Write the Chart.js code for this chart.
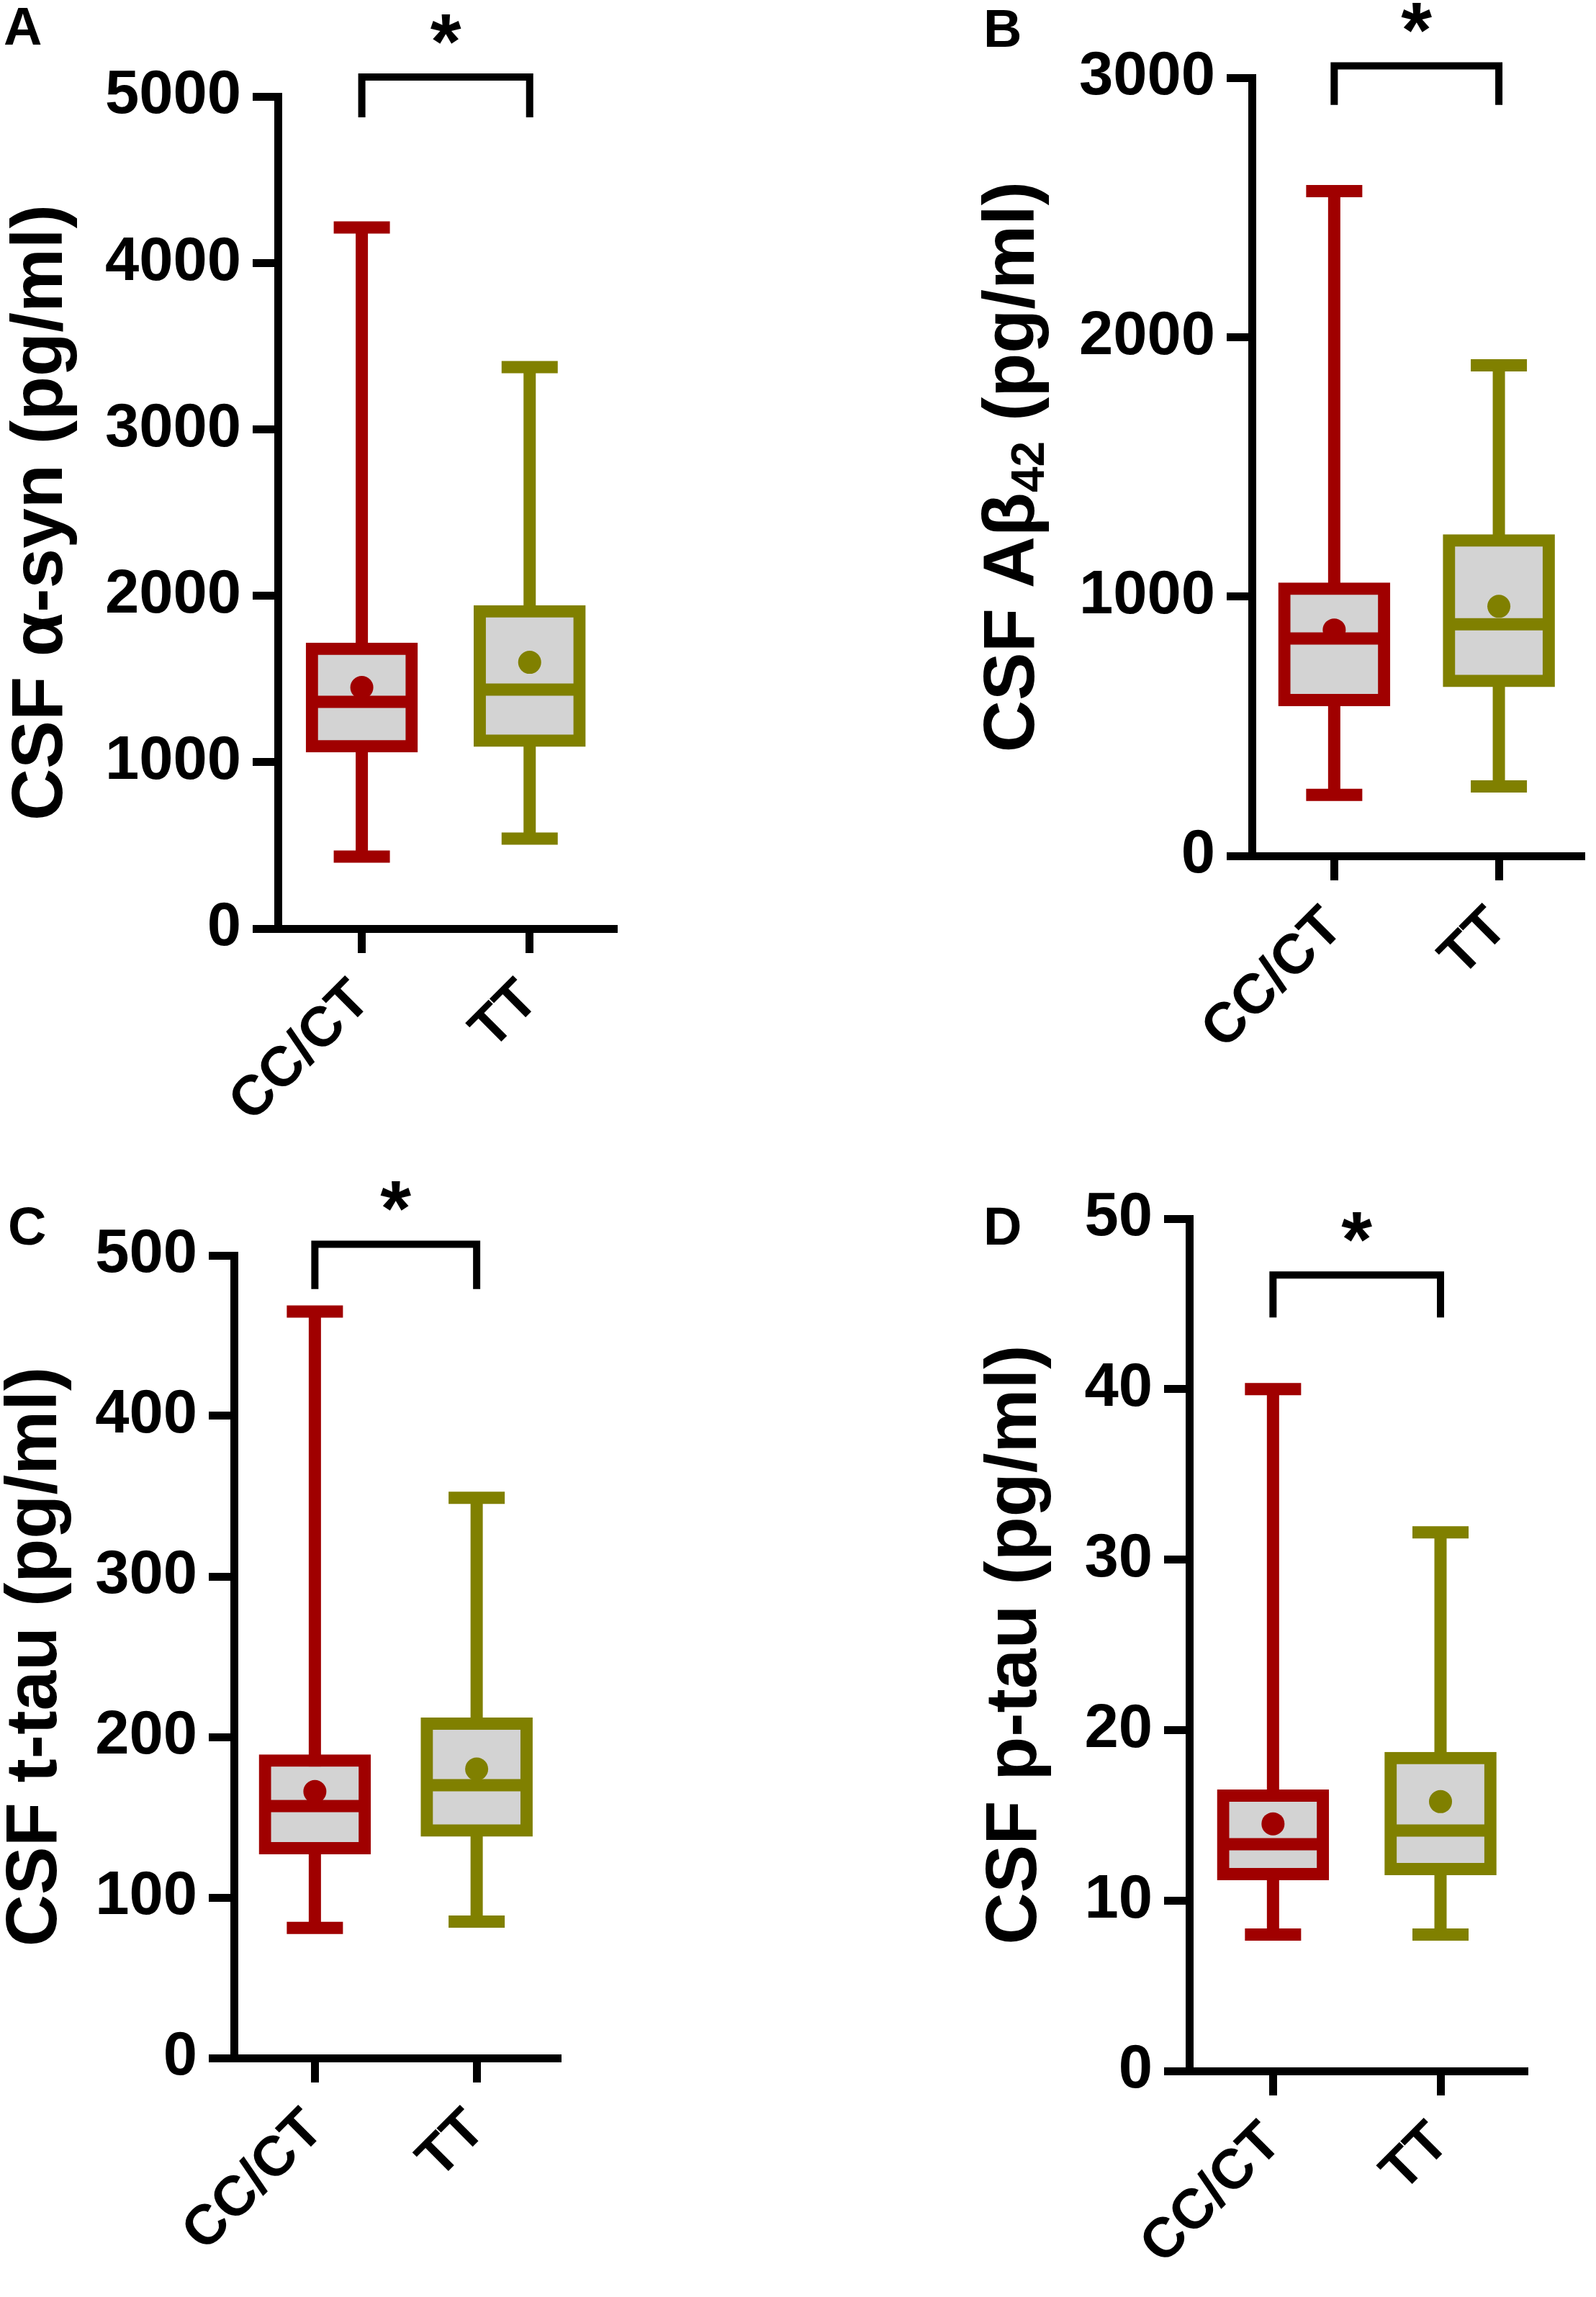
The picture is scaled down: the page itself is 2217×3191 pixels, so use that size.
<!DOCTYPE html>
<html>
<head>
<meta charset="utf-8">
<script src="https://cdn.jsdelivr.net/npm/chart.js@4.4.1/dist/chart.umd.min.js"></script>
<style>
html,body{margin:0;padding:0;background:#fff;}
#wrap{position:relative;width:2217px;height:3191px;}
canvas{position:absolute;}
</style>
</head>
<body>
<div id="wrap">
<canvas id="cA" width="1108" height="1580" style="left:0px;top:0px"></canvas>
<canvas id="cB" width="1109" height="1580" style="left:1108px;top:0px"></canvas>
<canvas id="cC" width="1108" height="1611" style="left:0px;top:1580px"></canvas>
<canvas id="cD" width="1109" height="1611" style="left:1108px;top:1580px"></canvas>
</div>
<script>
const FONT = "'Liberation Sans', Arial, sans-serif";

const categories = ["CC/CT", "TT"];
const groupColors = ["#A00000", "#808000"];

// A - CSF alpha-syn
const synMin = [433, 541];
const synQ1 = [1060, 1094];
const synMedian = [1362, 1436];
const synQ3 = [1717, 1942];
const synMax = [4213, 3374];
const synMean = [1449, 1600];

// B - CSF Abeta42
const abMin = [235, 268];
const abQ1 = [578, 652];
const abMedian = [838, 893];
const abQ3 = [1053, 1239];
const abMax = [2563, 1891];
const abMean = [871, 962];

// C - CSF t-tau
const ttauMin = [81, 85];
const ttauQ1 = [127, 138];
const ttauMedian = [157, 170];
const ttauQ3 = [189, 212];
const ttauMax = [465, 349];
const ttauMean = [166, 180];

// D - CSF p-tau
const ptauMin = [8.0, 8.0];
const ptauQ1 = [11.2, 11.5];
const ptauMedian = [13.3, 14.1];
const ptauQ3 = [16.5, 18.7];
const ptauMax = [40.0, 31.6];
const ptauMean = [14.5, 15.8];

// axes
const yMax = [5000, 3000, 500, 50];
const yStep = [1000, 1000, 100, 10];
// y titles: [text, subscript, text]
const yTitles = [
  ["CSF \u03b1-syn (pg/ml)", "", ""],
  ["CSF A\u03b2", "42", " (pg/ml)"],
  ["CSF t-tau (pg/ml)", "", ""],
  ["CSF p-tau (pg/ml)", "", ""]
];
const panelLetters = ["A", "B", "C", "D"];
// significance brackets (in axis units)
const bracketTop = [5117, 3046, 507, 46.7];
const bracketLeg = [4875, 2895, 479, 44.2];
const sigLabels = ["*", "*", "*", "*"];

const series = [
  {min: synMin, q1: synQ1, med: synMedian, q3: synQ3, max: synMax, mean: synMean},
  {min: abMin, q1: abQ1, med: abMedian, q3: abQ3, max: abMax, mean: abMean},
  {min: ttauMin, q1: ttauQ1, med: ttauMedian, q3: ttauQ3, max: ttauMax, mean: ttauMean},
  {min: ptauMin, q1: ptauQ1, med: ptauMedian, q3: ptauQ3, max: ptauMax, mean: ptauMean}
];

// layout of each panel inside its canvas
const layouts = [
  {canvas: "cA", left: 386, top: 134, right: 857, bottom: 1290, titleX: 58, letterX: 5, letterY: 62},
  {canvas: "cB", left: 631, top: 108, right: 1102, bottom: 1189, titleX: 300, letterX: 258, letterY: 65},
  {canvas: "cC", left: 325, top: 164, right: 779, bottom: 1279, titleX: 50, letterX: 11, letterY: 149},
  {canvas: "cD", left: 544, top: 113, right: 1014, bottom: 1297, titleX: 303, letterX: 258, letterY: 149}
];

const LINE = 17;
const BOX_W = 155;
const CAP_W = 78;

function makeChart(k) {
  const p = layouts[k];
  const d = series[k];
  const canvas = document.getElementById(p.canvas);
  const W = canvas.width, H = canvas.height;

  const boxPlugin = {
    id: "boxplot" + k,
    beforeDatasetsDraw(chart) {
      const ctx = chart.ctx, xs = chart.scales.x, ys = chart.scales.y;
      ctx.save();
      ctx.lineWidth = LINE;
      ctx.lineCap = "butt";
      categories.forEach((c, i) => {
        const cx = xs.getPixelForValue(i + 1);
        const yLo = ys.getPixelForValue(d.min[i]);
        const yHi = ys.getPixelForValue(d.max[i]);
        ctx.strokeStyle = groupColors[i];
        ctx.beginPath();
        ctx.moveTo(cx, yLo); ctx.lineTo(cx, yHi);
        ctx.moveTo(cx - CAP_W / 2, yLo); ctx.lineTo(cx + CAP_W / 2, yLo);
        ctx.moveTo(cx - CAP_W / 2, yHi); ctx.lineTo(cx + CAP_W / 2, yHi);
        ctx.stroke();
      });
      ctx.restore();
    },
    afterDatasetDraw(chart, args) {
      if (args.index !== 0) return;
      const ctx = chart.ctx, xs = chart.scales.x, ys = chart.scales.y;
      ctx.save();
      ctx.lineWidth = LINE;
      categories.forEach((c, i) => {
        const cx = xs.getPixelForValue(i + 1);
        const y = ys.getPixelForValue(d.med[i]);
        ctx.strokeStyle = groupColors[i];
        ctx.beginPath();
        ctx.moveTo(cx - BOX_W / 2 + 4, y); ctx.lineTo(cx + BOX_W / 2 - 4, y);
        ctx.stroke();
      });
      ctx.restore();
    },
    afterDraw(chart) {
      const ctx = chart.ctx, xs = chart.scales.x, ys = chart.scales.y;
      const area = chart.chartArea;
      ctx.save();
      // bracket
      const x1 = xs.getPixelForValue(1), x2 = xs.getPixelForValue(2);
      const yt = ys.getPixelForValue(bracketTop[k]);
      const yl = ys.getPixelForValue(bracketLeg[k]);
      ctx.strokeStyle = "#000";
      ctx.lineWidth = 10;
      ctx.lineJoin = "miter";
      ctx.beginPath();
      ctx.moveTo(x1, yl); ctx.lineTo(x1, yt); ctx.lineTo(x2, yt); ctx.lineTo(x2, yl);
      ctx.stroke();
      ctx.fillStyle = "#000";
      ctx.font = "bold 110px " + FONT;
      ctx.textAlign = "center";
      ctx.textBaseline = "alphabetic";
      ctx.fillText(sigLabels[k], (x1 + x2) / 2, yt - 12);

      // y title
      const t = yTitles[k];
      const mainFont = "bold 100px " + FONT;
      const subFont = "bold 64px " + FONT;
      ctx.font = mainFont;
      const w0 = ctx.measureText(t[0]).width;
      const w2 = ctx.measureText(t[2]).width;
      ctx.font = subFont;
      const w1 = ctx.measureText(t[1]).width;
      const total = w0 + w1 + w2;
      ctx.translate(p.titleX, (area.top + area.bottom) / 2);
      ctx.rotate(-Math.PI / 2);
      ctx.textAlign = "left";
      ctx.textBaseline = "middle";
      let x = -total / 2;
      ctx.font = mainFont; ctx.fillText(t[0], x, 0); x += w0;
      ctx.font = subFont; ctx.fillText(t[1], x, 24); x += w1;
      ctx.font = mainFont; ctx.fillText(t[2], x, 0);
      ctx.restore();

      // panel letter
      ctx.save();
      ctx.fillStyle = "#000";
      ctx.font = "bold 74px " + FONT;
      ctx.textAlign = "left";
      ctx.textBaseline = "alphabetic";
      ctx.fillText(panelLetters[k], p.letterX, p.letterY);
      ctx.restore();
    }
  };

  new Chart(canvas, {
    type: "bar",
    data: {
      datasets: [
        {
          type: "bar",
          order: 1,
          data: categories.map((c, i) => ({x: i + 1, y: [d.q1[i], d.q3[i]]})),
          backgroundColor: "#D3D3D3",
          borderColor: groupColors,
          borderWidth: LINE,
          borderSkipped: false,
          barThickness: BOX_W
        },
        {
          type: "scatter",
          order: 0,
          data: categories.map((c, i) => ({x: i + 1, y: d.mean[i]})),
          pointRadius: 16,
          pointBackgroundColor: groupColors,
          pointBorderWidth: 0
        }
      ]
    },
    options: {
      responsive: false,
      devicePixelRatio: 1,
      animation: false,
      events: [],
      layout: {padding: {left: 0, top: p.top, right: W - p.right, bottom: 0}},
      plugins: {legend: {display: false}, tooltip: {enabled: false}},
      scales: {
        x: {
          type: "linear",
          min: 0.5,
          max: 2.52,
          offset: false,
          afterBuildTicks: s => { s.ticks = categories.map((c, i) => ({value: i + 1})); },
          afterFit: s => { s.height = H - p.bottom; s.paddingLeft = 0; s.paddingRight = 0; },
          ticks: {
            callback: v => categories[v - 1],
            autoSkip: false,
            maxRotation: 45,
            minRotation: 45,
            color: "#000",
            padding: 20,
            font: {family: FONT, weight: "bold", size: 78}
          },
          grid: {offset: false, drawOnChartArea: false, drawTicks: true, tickLength: 34, tickWidth: 11, tickColor: "#000"},
          border: {display: true, width: 11, color: "#000"}
        },
        y: {
          min: 0,
          max: yMax[k],
          afterFit: s => { s.width = p.left; s.paddingTop = 0; s.paddingBottom = 0; },
          ticks: {
            stepSize: yStep[k],
            callback: v => String(v),
            color: "#000",
            padding: 16,
            font: {family: FONT, weight: "bold", size: 85}
          },
          grid: {drawOnChartArea: false, drawTicks: true, tickLength: 35, tickWidth: 11, tickColor: "#000"},
          border: {display: true, width: 11, color: "#000"}
        }
      }
    },
    plugins: [boxPlugin]
  });
}

layouts.forEach((p, k) => makeChart(k));
</script>
</body>
</html>
